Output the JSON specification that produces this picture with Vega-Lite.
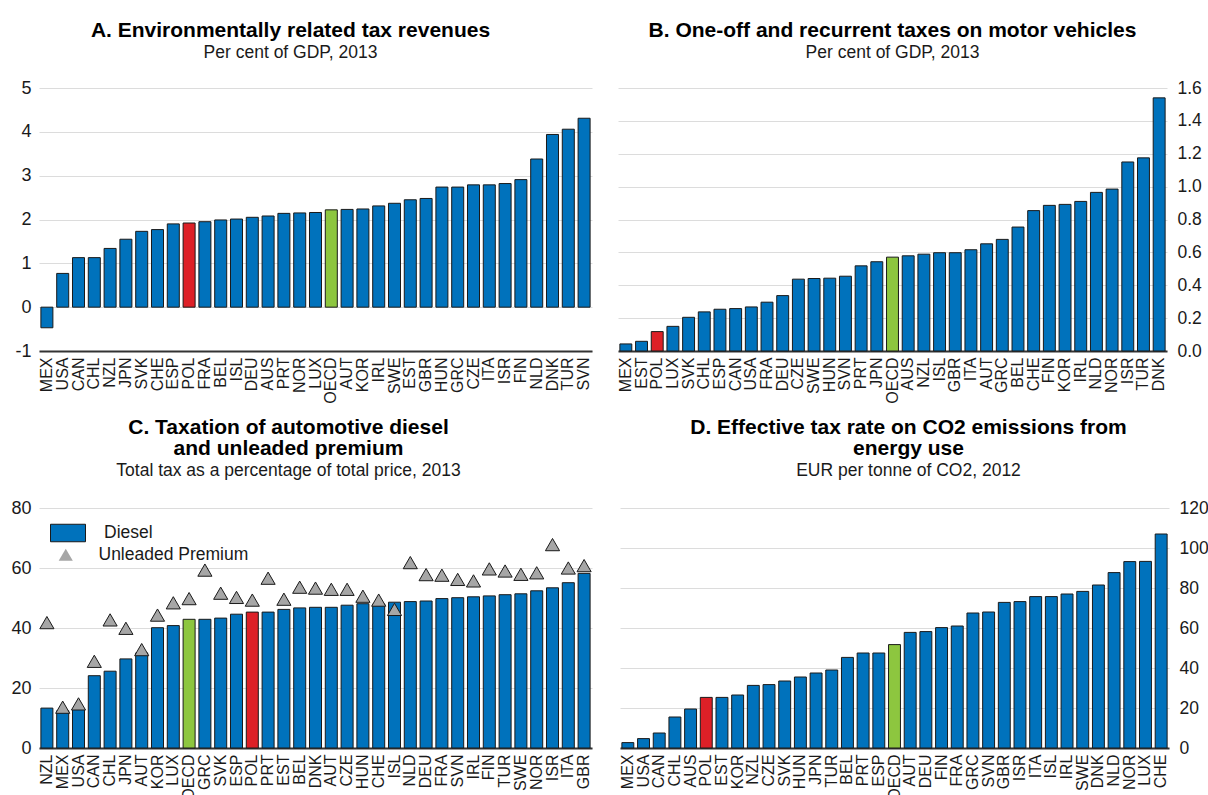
{
  "$schema": "https://vega.github.io/schema/vega-lite/v6.json",
  "padding": {"left": 9, "top": 19, "right": 0, "bottom": 0},
  "config": {
    "font": "Liberation Sans",
    "view": {"stroke": null},
    "axis": {"labelFont": "Liberation Sans", "labelColor": "#1a1a1a", "title": null, "ticks": false},
    "title": {"font": "Liberation Sans", "fontSize": 21, "fontWeight": "bold", "color": "#000000", "subtitleFont": "Liberation Sans", "subtitleFontSize": 17.5, "subtitleColor": "#1a1a1a", "subtitlePadding": 0, "anchor": "middle", "lineHeight": 21}
  },
  "resolve": {"legend": {"fill": "independent", "shape": "independent"}},
  "datasets": {
    "A": [
      {"c": "MEX", "v": -0.47}, {"c": "USA", "v": 0.77}, {"c": "CAN", "v": 1.13}, {"c": "CHL", "v": 1.13}, {"c": "NZL", "v": 1.34},
      {"c": "JPN", "v": 1.55}, {"c": "SVK", "v": 1.73}, {"c": "CHE", "v": 1.77}, {"c": "ESP", "v": 1.90}, {"c": "POL", "v": 1.92},
      {"c": "FRA", "v": 1.95}, {"c": "BEL", "v": 1.99}, {"c": "ISL", "v": 2.01}, {"c": "DEU", "v": 2.05}, {"c": "AUS", "v": 2.08},
      {"c": "PRT", "v": 2.14}, {"c": "NOR", "v": 2.15}, {"c": "LUX", "v": 2.16}, {"c": "OECD", "v": 2.22}, {"c": "AUT", "v": 2.23},
      {"c": "KOR", "v": 2.24}, {"c": "IRL", "v": 2.31}, {"c": "SWE", "v": 2.37}, {"c": "EST", "v": 2.45}, {"c": "GBR", "v": 2.48},
      {"c": "HUN", "v": 2.74}, {"c": "GRC", "v": 2.74}, {"c": "CZE", "v": 2.79}, {"c": "ITA", "v": 2.79}, {"c": "ISR", "v": 2.82},
      {"c": "FIN", "v": 2.91}, {"c": "NLD", "v": 3.38}, {"c": "DNK", "v": 3.94}, {"c": "TUR", "v": 4.06}, {"c": "SVN", "v": 4.31}
    ],
    "B": [
      {"c": "MEX", "v": 0.043}, {"c": "EST", "v": 0.059}, {"c": "POL", "v": 0.118}, {"c": "LUX", "v": 0.150}, {"c": "SVK", "v": 0.205},
      {"c": "CHL", "v": 0.238}, {"c": "ESP", "v": 0.254}, {"c": "CAN", "v": 0.258}, {"c": "USA", "v": 0.268}, {"c": "FRA", "v": 0.297},
      {"c": "DEU", "v": 0.337}, {"c": "CZE", "v": 0.437}, {"c": "SWE", "v": 0.441}, {"c": "HUN", "v": 0.443}, {"c": "SVN", "v": 0.455},
      {"c": "PRT", "v": 0.518}, {"c": "JPN", "v": 0.543}, {"c": "OECD", "v": 0.571}, {"c": "AUS", "v": 0.579}, {"c": "NZL", "v": 0.589},
      {"c": "ISL", "v": 0.598}, {"c": "GBR", "v": 0.598}, {"c": "ITA", "v": 0.616}, {"c": "AUT", "v": 0.652}, {"c": "GRC", "v": 0.679},
      {"c": "BEL", "v": 0.754}, {"c": "CHE", "v": 0.854}, {"c": "FIN", "v": 0.886}, {"c": "KOR", "v": 0.892}, {"c": "IRL", "v": 0.910},
      {"c": "NLD", "v": 0.965}, {"c": "NOR", "v": 0.985}, {"c": "ISR", "v": 1.150}, {"c": "TUR", "v": 1.175}, {"c": "DNK", "v": 1.540}
    ],
    "C": [
      {"c": "NZL", "v": 13.3, "u": 41.8}, {"c": "MEX", "v": 12.4, "u": 13.6}, {"c": "USA", "v": 13.0, "u": 14.7}, {"c": "CAN", "v": 24.1, "u": 28.9},
      {"c": "CHL", "v": 25.6, "u": 42.7}, {"c": "JPN", "v": 29.7, "u": 39.9}, {"c": "AUT", "v": 31.7, "u": 32.8}, {"c": "KOR", "v": 40.1, "u": 44.3},
      {"c": "LUX", "v": 40.8, "u": 48.4}, {"c": "OECD", "v": 42.9, "u": 49.8}, {"c": "GRC", "v": 42.9, "u": 59.3}, {"c": "SVK", "v": 43.3, "u": 51.6},
      {"c": "ESP", "v": 44.6, "u": 50.2}, {"c": "POL", "v": 45.3, "u": 49.3}, {"c": "PRT", "v": 45.3, "u": 56.6}, {"c": "EST", "v": 46.2, "u": 49.6},
      {"c": "BEL", "v": 46.7, "u": 53.6}, {"c": "DNK", "v": 46.9, "u": 53.3}, {"c": "AUT\u200b", "v": 46.9, "u": 52.9}, {"c": "CZE", "v": 47.6, "u": 52.9},
      {"c": "HUN", "v": 48.1, "u": 50.6}, {"c": "CHE", "v": 48.0, "u": 49.3}, {"c": "ISL", "v": 48.6, "u": 46.2}, {"c": "NLD", "v": 48.8, "u": 61.8},
      {"c": "DEU", "v": 49.0, "u": 57.8}, {"c": "FRA", "v": 49.8, "u": 57.6}, {"c": "SVN", "v": 50.1, "u": 56.2}, {"c": "IRL", "v": 50.4, "u": 55.7},
      {"c": "FIN", "v": 50.7, "u": 59.7}, {"c": "TUR", "v": 51.1, "u": 59.0}, {"c": "SWE", "v": 51.4, "u": 57.9}, {"c": "NOR", "v": 52.4, "u": 58.4},
      {"c": "ISR", "v": 53.4, "u": 67.8}, {"c": "ITA", "v": 55.1, "u": 60.0}, {"c": "GBR", "v": 58.2, "u": 60.8}
    ],
    "D": [
      {"c": "MEX", "v": 2.7}, {"c": "USA", "v": 4.7}, {"c": "CAN", "v": 7.5}, {"c": "CHL", "v": 15.5}, {"c": "AUS", "v": 19.5},
      {"c": "POL", "v": 25.3}, {"c": "EST", "v": 25.3}, {"c": "KOR", "v": 26.5}, {"c": "NZL", "v": 31.3}, {"c": "CZE", "v": 31.7},
      {"c": "SVK", "v": 33.5}, {"c": "HUN", "v": 35.5}, {"c": "JPN", "v": 37.5}, {"c": "TUR", "v": 39.0}, {"c": "BEL", "v": 45.3},
      {"c": "PRT", "v": 47.5}, {"c": "ESP", "v": 47.5}, {"c": "OECD", "v": 51.7}, {"c": "AUT", "v": 57.8}, {"c": "DEU", "v": 58.2},
      {"c": "FIN", "v": 60.2}, {"c": "FRA", "v": 61.0}, {"c": "GRC", "v": 67.5}, {"c": "SVN", "v": 68.0}, {"c": "GBR", "v": 72.8},
      {"c": "ISR", "v": 73.2}, {"c": "ITA", "v": 75.7}, {"c": "ISL", "v": 75.7}, {"c": "IRL", "v": 77.0}, {"c": "SWE", "v": 78.3},
      {"c": "DNK", "v": 81.5}, {"c": "NLD", "v": 87.7}, {"c": "NOR", "v": 93.2}, {"c": "LUX", "v": 93.3}, {"c": "CHE", "v": 107.0}
    ]
  },
  "vconcat": [
    {
      "resolve": {"legend": {"fill": "independent", "shape": "independent"}},
      "hconcat": [
        {
          "data": {"name": "A"},
          "title": {"text": "A. Environmentally related tax revenues", "subtitle": "Per cent of GDP, 2013", "offset": 18, "dx": -25},
          "width": 553, "height": 263,
          "mark": {"type": "bar", "stroke": "#1a1a1a", "strokeWidth": 1},
          "encoding": {
            "x": {"field": "c", "type": "nominal", "sort": null, "scale": {"paddingInner": 0.24, "paddingOuter": 0.12},
                  "axis": {"labelAngle": -90, "labelFontSize": 16, "labelPadding": 6, "domainColor": "#333333", "domainWidth": 2, "grid": false, "minExtent": 45, "maxExtent": 45}},
            "y": {"field": "v", "type": "quantitative", "scale": {"domain": [-1, 5], "nice": false},
                  "axis": {"values": [-1, 0, 1, 2, 3, 4, 5], "domain": false, "gridColor": "#dcdcdc", "labelFontSize": 18, "labelPadding": 8, "minExtent": 30, "maxExtent": 30, "labelExpr": "replace(datum.label, '\u2212', '-')"}},
            "fill": {"condition": [{"test": "datum.c === 'POL'", "value": "#dd2027"}, {"test": "datum.c === 'OECD'", "value": "#8dc63f"}], "value": "#0072bc"}
          }
        },
        {
          "data": {"name": "B"},
          "title": {"text": "B. One-off and recurrent taxes on motor vehicles", "subtitle": "Per cent of GDP, 2013", "offset": 18},
          "width": 549, "height": 263,
          "mark": {"type": "bar", "stroke": "#1a1a1a", "strokeWidth": 1},
          "encoding": {
            "x": {"field": "c", "type": "nominal", "sort": null, "scale": {"paddingInner": 0.24, "paddingOuter": 0.12},
                  "axis": {"labelAngle": -90, "labelFontSize": 16, "labelPadding": 6, "domainColor": "#333333", "domainWidth": 2, "grid": false, "minExtent": 45, "maxExtent": 45}},
            "y": {"field": "v", "type": "quantitative", "scale": {"domain": [0, 1.6], "nice": false},
                  "axis": {"orient": "right", "values": [0, 0.2, 0.4, 0.6, 0.8, 1.0, 1.2, 1.4, 1.6], "format": ".1f", "domain": false, "gridColor": "#dcdcdc", "labelFontSize": 17.5, "labelPadding": 10, "minExtent": 41, "maxExtent": 41}},
            "fill": {"condition": [{"test": "datum.c === 'POL'", "value": "#dd2027"}, {"test": "datum.c === 'OECD'", "value": "#8dc63f"}], "value": "#0072bc"}
          }
        }
      ],
      "spacing": 25
    },
    {
      "resolve": {"legend": {"fill": "independent", "shape": "independent"}},
      "hconcat": [
        {
          "data": {"name": "C"},
          "title": {"text": ["C. Taxation of automotive diesel", "and unleaded premium"], "subtitle": "Total tax as a percentage of total price, 2013", "offset": 20, "dx": -27},
          "width": 553, "height": 240,
          "layer": [
            {
              "mark": {"type": "bar", "stroke": "#1a1a1a", "strokeWidth": 1},
              "encoding": {
                "x": {"field": "c", "type": "nominal", "sort": null, "scale": {"paddingInner": 0.24, "paddingOuter": 0.12},
                      "axis": {"labelAngle": -90, "labelFontSize": 16, "labelPadding": 6, "domainColor": "#333333", "domainWidth": 2, "grid": false, "minExtent": 45, "maxExtent": 45}},
                "y": {"field": "v", "type": "quantitative", "scale": {"domain": [0, 80], "nice": false},
                      "axis": {"values": [0, 10, 20, 30, 40, 50, 60, 70, 80], "domain": false, "gridColor": "#dcdcdc", "labelFontSize": 18, "labelPadding": 8, "minExtent": 30, "maxExtent": 30}},
                "fill": {"datum": "Diesel", "type": "nominal",
                         "scale": {"domain": ["Diesel"], "range": ["#0072bc"]},
                         "legend": {"orient": "none", "legendX": 11, "legendY": 7, "title": null, "padding": 0, "symbolType": "M-1,-0.5H1V0.5H-1Z", "symbolSize": 1225, "symbolStrokeColor": "#1a1a1a", "symbolStrokeWidth": 1, "symbolFillColor": "#0072bc", "labelFontSize": 17.5, "labelFont": "Liberation Sans", "labelColor": "#1a1a1a", "labelOffset": 18},
                         "condition": [{"test": "datum.c === 'POL'", "value": "#dd2027"}, {"test": "datum.c === 'OECD'", "value": "#8dc63f"}]}
              }
            },
            {
              "mark": {"type": "point", "filled": true, "fill": "#a6a6a6", "stroke": "#1a1a1a", "strokeWidth": 1, "size": 200, "opacity": 1},
              "encoding": {
                "x": {"field": "c", "type": "nominal", "sort": null},
                "y": {"field": "u", "type": "quantitative"},
                "shape": {"datum": "Unleaded Premium", "type": "nominal",
                          "scale": {"domain": ["Unleaded Premium"], "range": ["triangle-up"]},
                          "legend": {"orient": "none", "legendX": 18, "legendY": 38, "title": null, "padding": 0, "symbolSize": 200, "symbolFillColor": "#a6a6a6", "symbolStrokeColor": "#1a1a1a", "symbolStrokeWidth": 1, "labelFontSize": 17.5, "labelFont": "Liberation Sans", "labelColor": "#1a1a1a", "labelOffset": 24}}
              }
            }
          ]
        },
        {
          "data": {"name": "D"},
          "title": {"text": ["D. Effective tax rate on CO2 emissions from", "energy use"], "subtitle": "EUR per tonne of CO2, 2012", "offset": 20, "dx": 14},
          "width": 549, "height": 240,
          "mark": {"type": "bar", "stroke": "#1a1a1a", "strokeWidth": 1},
          "encoding": {
            "x": {"field": "c", "type": "nominal", "sort": null, "scale": {"paddingInner": 0.24, "paddingOuter": 0.12},
                  "axis": {"labelAngle": -90, "labelFontSize": 16, "labelPadding": 6, "domainColor": "#333333", "domainWidth": 2, "grid": false, "minExtent": 45, "maxExtent": 45}},
            "y": {"field": "v", "type": "quantitative", "scale": {"domain": [0, 120], "nice": false},
                  "axis": {"orient": "right", "values": [0, 20, 40, 60, 80, 100, 120], "domain": false, "gridColor": "#dcdcdc", "labelFontSize": 17.5, "labelPadding": 10, "minExtent": 41, "maxExtent": 41}},
            "fill": {"condition": [{"test": "datum.c === 'POL'", "value": "#dd2027"}, {"test": "datum.c === 'OECD'", "value": "#8dc63f"}], "value": "#0072bc"}
          }
        }
      ],
      "spacing": 25
    }
  ],
  "spacing": 12
}
